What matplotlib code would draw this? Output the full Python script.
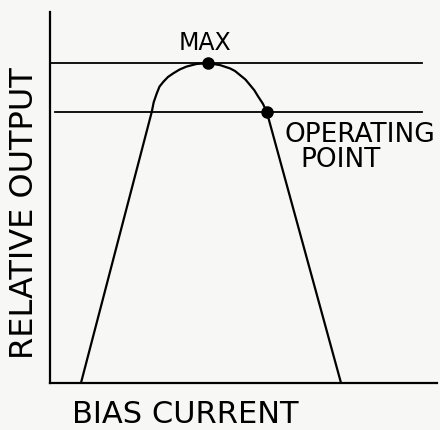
import matplotlib.pyplot as plt

# Curve (axis units 0-100)
bias = [8.0, 26.3, 26.8, 27.6, 28.3, 29.3, 30.5, 31.9, 33.5, 35.3, 37.9, 40.9,
        43.9, 46.5, 47.8, 49.1, 50.5, 51.7, 52.8, 53.8, 55.0, 56.0, 75.2]
output = [0.0, 73.1, 75.7, 78.1, 79.9, 81.2, 82.5, 83.5, 84.5, 85.3, 86.0, 86.2,
          85.7, 84.8, 84.1, 83.0, 81.8, 80.3, 78.9, 77.2, 75.3, 73.1, 0.0]

max_point = (40.9, 86.2)
operating_point = (56.0, 73.1)
max_level = 86.2
operating_level = 73.1

W, H = 440, 430
fig = plt.figure(figsize=(W / 100, H / 100), dpi=100)
fig.patch.set_facecolor('#f7f7f5')

ax = fig.add_axes([50 / W, 1 - 383 / H, 387 / W, 371 / H])
ax.set_facecolor('none')
ax.set_xlim(0, 100)
ax.set_ylim(0, 100)
for s in ['top', 'right']:
    ax.spines[s].set_visible(False)
for s in ['left', 'bottom']:
    ax.spines[s].set_linewidth(1.6)
    ax.spines[s].set_color('black')
ax.set_xticks([])
ax.set_yticks([])

# reference levels
ax.plot([0, 96.1], [max_level, max_level], color='black', lw=1.3)
ax.plot([1.3, 96.1], [operating_level, operating_level], color='black', lw=1.3)

# response curve
ax.plot(bias, output, color='black', lw=1.6, solid_joinstyle='round')
ax.plot(*max_point, 'o', color='black', markersize=8)
ax.plot(*operating_point, 'o', color='black', markersize=8)

# labels
fig.text(205 / W, 1 - 50 / H, 'MAX', ha='center', va='baseline', fontsize=17)
fig.text(360 / W, 1 - 142 / H, 'OPERATING', ha='center', va='baseline', fontsize=19)
fig.text(341 / W, 1 - 167 / H, 'POINT', ha='center', va='baseline', fontsize=19)
fig.text(72 / W, 1 - 423 / H, 'BIAS CURRENT', ha='left', va='baseline', fontsize=22)
fig.text(25 / W, 1 - 213 / H, 'RELATIVE OUTPUT', ha='center', va='center',
         rotation=90, fontsize=23)

fig.savefig('out.png', dpi=100, facecolor=fig.get_facecolor())
